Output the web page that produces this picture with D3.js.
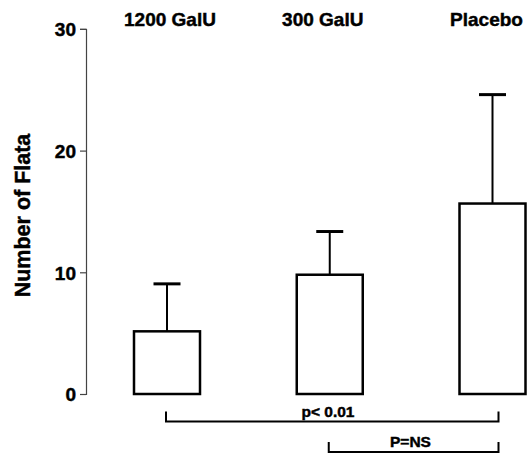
<!DOCTYPE html>
<html>
<head>
<meta charset="utf-8">
<script src="https://cdn.jsdelivr.net/npm/d3@7"></script>
<style>
    body { margin: 0; background: #fff; }
    text { font-family: "Liberation Sans", Arial, sans-serif; font-weight: bold; fill: #000; stroke: #000; stroke-width: 0.45px; }
</style>
</head>
<body>
<div id="chart"></div>
<script>
// data
var groups = ["1200 GalU", "300 GalU", "Placebo"];
var means = [5.15, 9.8, 15.65];
var sdTop = [9.05, 13.35, 24.6];
var yTicks = [0, 10, 20, 30];
var comparisons = [
    {from: "1200 GalU", to: "Placebo", label: "p< 0.01"},
    {from: "300 GalU", to: "Placebo", label: "P=NS"}
];

var width = 527, height = 455;

var svg = d3.select("#chart").append("svg")
    .attr("width", width)
    .attr("height", height);

var x = d3.scalePoint()
    .domain(groups)
    .range([167, 492.5]);

var y = d3.scaleLinear()
    .domain([0, 30])
    .range([394, 28.9]);

var barW = 66, capW = 27;

// y axis
var yAxis = svg.append("g")
    .attr("transform", "translate(86,0)")
    .call(d3.axisLeft(y).tickValues(yTicks).tickSize(6).tickPadding(4).tickFormat(d3.format("d")));

yAxis.select(".domain").attr("stroke", "#444").attr("stroke-width", 1.2);
yAxis.selectAll(".tick line").attr("stroke", "#444").attr("stroke-width", 1.2);
yAxis.selectAll(".tick text")
    .attr("font-size", 19)
    .attr("dy", "0.36em")
    .attr("fill", "#000");

svg.append("text")
    .attr("transform", "translate(30,215.5) rotate(-90)")
    .attr("text-anchor", "middle")
    .attr("font-size", 21.5)
    .text("Number of Flata");

// group labels along the top
var labelShift = {"1200 GalU": 3, "300 GalU": -7, "Placebo": -6};
svg.selectAll(".glabel")
    .data(groups)
    .enter().append("text")
    .attr("class", "glabel")
    .attr("x", function(d) { return x(d) + labelShift[d]; })
    .attr("y", 26)
    .attr("text-anchor", "middle")
    .attr("font-size", 19)
    .text(function(d) { return d; });

// error bars
var err = svg.append("g").selectAll("g")
    .data(groups)
    .enter().append("g");

err.append("line")
    .attr("x1", function(d) { return x(d); })
    .attr("x2", function(d) { return x(d); })
    .attr("y1", function(d, i) { return y(means[i]); })
    .attr("y2", function(d, i) { return y(sdTop[i]); })
    .attr("stroke", "#000")
    .attr("stroke-width", 2);

err.append("line")
    .attr("x1", function(d) { return x(d) - capW / 2; })
    .attr("x2", function(d) { return x(d) + capW / 2; })
    .attr("y1", function(d, i) { return y(sdTop[i]); })
    .attr("y2", function(d, i) { return y(sdTop[i]); })
    .attr("stroke", "#000")
    .attr("stroke-width", 3);

// bars
svg.append("g").selectAll("rect")
    .data(groups)
    .enter().append("rect")
    .attr("x", function(d) { return x(d) - barW / 2; })
    .attr("width", barW)
    .attr("y", function(d, i) { return y(means[i]); })
    .attr("height", function(d, i) { return y(0) - y(means[i]); })
    .attr("fill", "#fff")
    .attr("stroke", "#000")
    .attr("stroke-width", 2.5);

// significance brackets under the bars
var bracketY = [421.5, 452];
var br = svg.append("g").selectAll("g")
    .data(comparisons)
    .enter().append("g");

br.append("path")
    .attr("d", function(d, i) {
        var x1 = x(d.from) - 1, x2 = x(d.to) + 6, yy = bracketY[i];
        return "M" + x1 + "," + (yy - 10) + "V" + yy + "H" + x2 + "V" + (yy - 10);
    })
    .attr("fill", "none")
    .attr("stroke", "#000")
    .attr("stroke-width", 2);

br.append("text")
    .attr("x", function(d, i) { return i == 0 ? 328 : 410.5; })
    .attr("y", function(d, i) { return bracketY[i] - 5; })
    .attr("text-anchor", "middle")
    .attr("font-size", 15.5)
    .text(function(d) { return d.label; });
</script>
</body>
</html>
